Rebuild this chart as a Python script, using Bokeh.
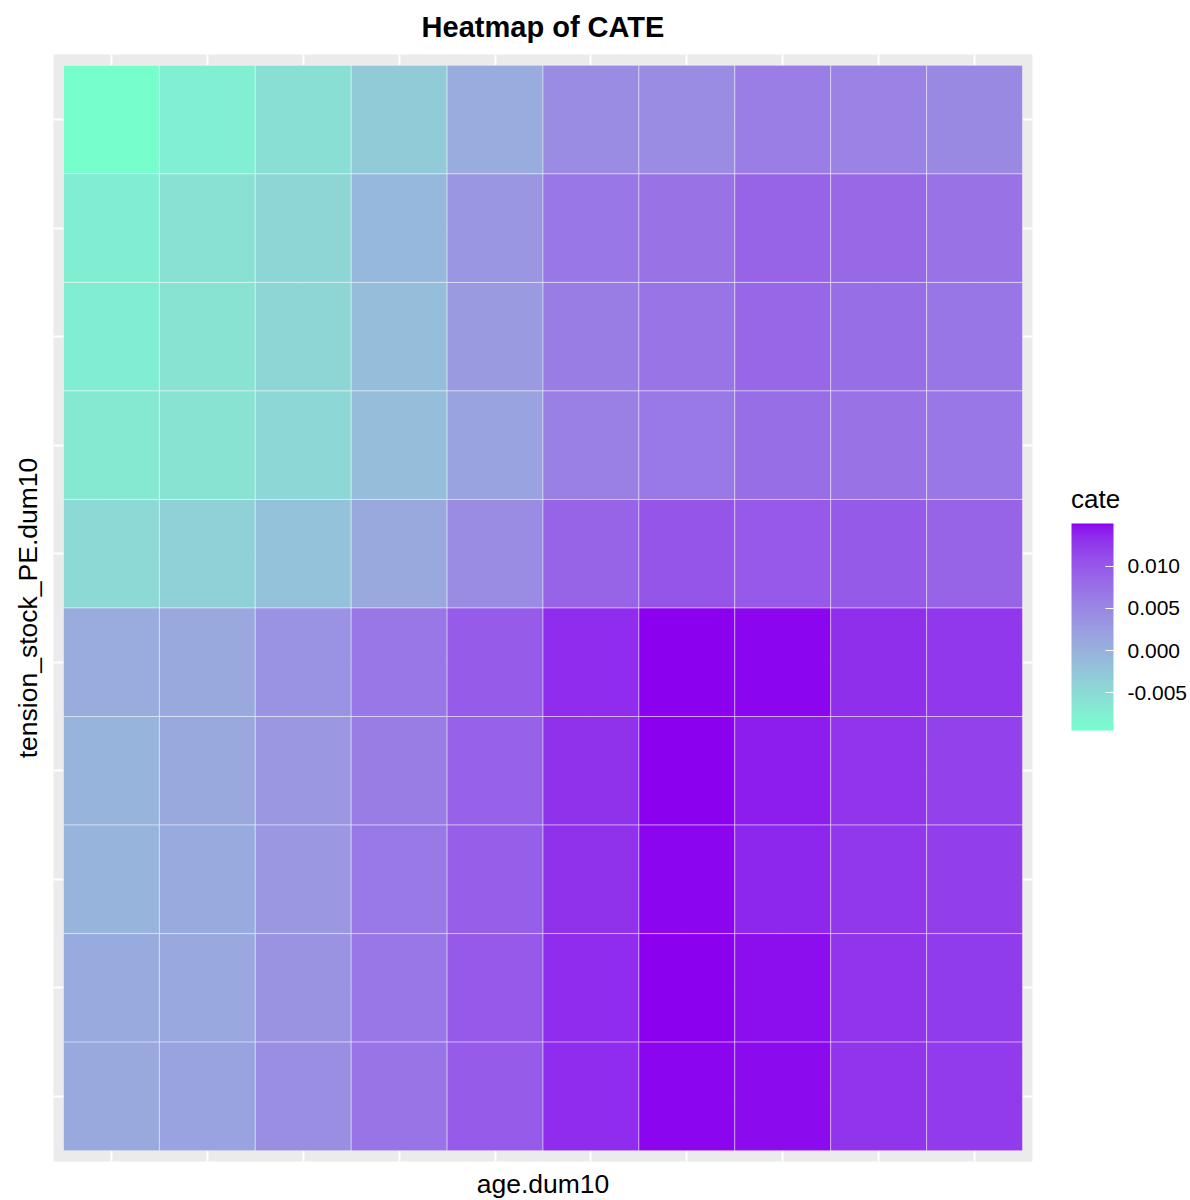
import numpy as np
from bokeh.plotting import figure
from bokeh.models import (ColumnDataSource, LinearColorMapper, ColorBar, FixedTicker,
                          PrintfTickFormatter, Range1d, Legend, LegendItem)
from bokeh.embed import file_html
from bokeh.resources import INLINE

# ---------------- data ----------------
x_levels = [1, 2, 3, 4, 5, 6, 7, 8, 9, 10]          # age.dum10
y_levels = [10, 9, 8, 7, 6, 5, 4, 3, 2, 1]          # tension_stock_PE.dum10 (top -> bottom)
cate_y10 = [-0.0095, -0.0075, -0.0055, -0.0030, 0.0005, 0.0045, 0.0045, 0.0060, 0.0055, 0.0048]
cate_y9 = [-0.0073, -0.0058, -0.0043, -0.0008, 0.0033, 0.0068, 0.0073, 0.0088, 0.0083, 0.0073]
cate_y8 = [-0.0073, -0.0060, -0.0045, -0.0015, 0.0028, 0.0063, 0.0072, 0.0085, 0.0078, 0.0070]
cate_y7 = [-0.0068, -0.0060, -0.0046, -0.0015, 0.0018, 0.0058, 0.0066, 0.0078, 0.0074, 0.0068]
cate_y6 = [-0.0047, -0.0038, -0.0020, 0.0010, 0.0045, 0.0088, 0.0103, 0.0100, 0.0099, 0.0088]
cate_y5 = [0.0005, 0.0010, 0.0038, 0.0068, 0.0097, 0.0135, 0.0151, 0.0150, 0.0133, 0.0128]
cate_y4 = [-0.0004, 0.0010, 0.0030, 0.0063, 0.0092, 0.0132, 0.0151, 0.0143, 0.0129, 0.0121]
cate_y3 = [-0.0004, 0.0008, 0.0030, 0.0066, 0.0095, 0.0132, 0.0150, 0.0138, 0.0127, 0.0123]
cate_y2 = [0.0008, 0.0012, 0.0036, 0.0068, 0.0100, 0.0135, 0.0151, 0.0148, 0.0129, 0.0125]
cate_y1 = [0.0010, 0.0018, 0.0042, 0.0072, 0.0097, 0.0135, 0.0150, 0.0149, 0.0129, 0.0126]
cate_rows = [cate_y10, cate_y9, cate_y8, cate_y7, cate_y6, cate_y5, cate_y4, cate_y3, cate_y2, cate_y1]
legend_ticks = [-0.005, 0.0, 0.005, 0.010]

low_color = (118, 255, 205)
high_color = (139, 0, 238)

# ---------------- Lab gradient (like ggplot's scale_fill_gradient) ----------------
def srgb_to_lab(c):
    c = np.array(c, dtype=float) / 255.0
    lin = np.where(c <= 0.04045, c / 12.92, ((c + 0.055) / 1.055) ** 2.4)
    M = np.array([[0.4124564, 0.3575761, 0.1804375],
                  [0.2126729, 0.7151522, 0.0721750],
                  [0.0193339, 0.1191920, 0.9503041]])
    xyz = M @ lin
    wp = np.array([0.95047, 1.0, 1.08883])
    t = xyz / wp
    f = np.where(t > (6 / 29) ** 3, np.cbrt(t), t / (3 * (6 / 29) ** 2) + 4 / 29)
    return np.array([116 * f[1] - 16, 500 * (f[0] - f[1]), 200 * (f[1] - f[2])])

def lab_to_hex(lab):
    L, a, b = lab
    fy = (L + 16) / 116
    fx = fy + a / 500
    fz = fy - b / 200
    def finv(f):
        return f ** 3 if f > 6 / 29 else 3 * (6 / 29) ** 2 * (f - 4 / 29)
    wp = np.array([0.95047, 1.0, 1.08883])
    xyz = np.array([finv(fx), finv(fy), finv(fz)]) * wp
    Minv = np.array([[3.2404542, -1.5371385, -0.4985314],
                     [-0.9692660, 1.8760108, 0.0415560],
                     [0.0556434, -0.2040259, 1.0572252]])
    lin = np.clip(Minv @ xyz, 0, 1)
    c = np.where(lin <= 0.0031308, 12.92 * lin, 1.055 * lin ** (1 / 2.4) - 0.055)
    c = np.clip(np.round(c * 255), 0, 255).astype(int)
    return "#%02x%02x%02x" % tuple(c)

lab_lo, lab_hi = srgb_to_lab(low_color), srgb_to_lab(high_color)
palette = [lab_to_hex(lab_lo + (lab_hi - lab_lo) * t) for t in np.linspace(0, 1, 256)]

# ---------------- table ----------------
xs, ys, vals = [], [], []
for yv, row in zip(y_levels, cate_rows):
    for xv, v in zip(x_levels, row):
        xs.append(xv)
        ys.append(yv)
        vals.append(v)
src = ColumnDataSource(dict(x=xs, y=ys, cate=vals))
all_vals = np.array(vals)
mapper = LinearColorMapper(palette=palette, low=float(all_vals.min()), high=float(all_vals.max()))

FONT = "Liberation Sans"

p = figure(frame_width=979, frame_height=1107,
           x_range=Range1d(0.396, 10.604), y_range=Range1d(0.4, 10.6),
           output_backend="svg", toolbar_location=None,
           min_border_left=53, min_border_top=54, min_border_bottom=39, min_border_right=158,
           background_fill_color="#EBEBEB", border_fill_color="white")
p.outline_line_color = None

tiles = p.rect(x="x", y="y", width=1, height=1, source=src,
               fill_color={"field": "cate", "transform": mapper},
               line_color="white", line_alpha=0.55, line_width=0.8)

# grid lines at tile centres
p.xgrid.ticker = FixedTicker(ticks=x_levels)
p.ygrid.ticker = FixedTicker(ticks=y_levels)
for g in (p.xgrid, p.ygrid):
    g.grid_line_color = "white"
    g.grid_line_width = 2
    g.minor_grid_line_color = None

for ax in (p.xaxis, p.yaxis):
    ax.ticker = FixedTicker(ticks=[])
    ax.axis_line_color = None
    ax.major_tick_line_color = None
    ax.minor_tick_line_color = None
    ax.major_tick_out = 0
    ax.major_tick_in = 0
    ax.major_label_standoff = 0
    ax.axis_label_text_font = FONT
    ax.axis_label_text_font_size = "26.5px"
    ax.axis_label_text_font_style = "normal"
    ax.axis_label_text_color = "black"
p.xaxis.axis_label = "age.dum10"
p.yaxis.axis_label = "tension_stock_PE.dum10"
p.xaxis.axis_label_standoff = 7
p.yaxis.axis_label_standoff = 11

p.title.text = "Heatmap of CATE"
p.title.align = "center"
p.title.text_font = FONT
p.title.text_font_size = "29px"
p.title.text_font_style = "bold"
p.title.text_color = "black"
p.title.vertical_align = "top"
p.title.standoff = 19

cb = ColorBar(color_mapper=mapper, ticker=FixedTicker(ticks=legend_ticks),
              formatter=PrintfTickFormatter(format="%.3f"),
              width=42, height=207,
              major_label_text_font=FONT, major_label_text_font_size="21px",
              major_label_text_color="black", label_standoff=14,
              major_tick_in=8, major_tick_out=0, major_tick_line_color="white",
              major_tick_line_width=1, minor_tick_line_color=None,
              bar_line_color=None, border_line_color=None, background_fill_alpha=0,
              margin=0, padding=0, location=(1018, 431))
p.add_layout(cb, "center")

# legend title "cate" (horizontal, above the bar) via an otherwise invisible legend
dummy = p.scatter(x=[], y=[], size=1, fill_alpha=0, line_alpha=0)
title_legend = Legend(items=[LegendItem(label=" ", renderers=[dummy])],
                      title="cate", title_text_font=FONT, title_text_font_size="26px",
                      title_text_font_style="normal", title_text_color="black",
                      title_standoff=0, label_text_font_size="1px", label_text_alpha=0,
                      glyph_height=1, glyph_width=1, label_height=1, label_width=1,
                      spacing=0, padding=0, margin=0,
                      background_fill_alpha=0, border_line_color=None,
                      location=(39, 645))
p.add_layout(title_legend, "right")

open("out.html", "w").write(file_html(p, INLINE))
